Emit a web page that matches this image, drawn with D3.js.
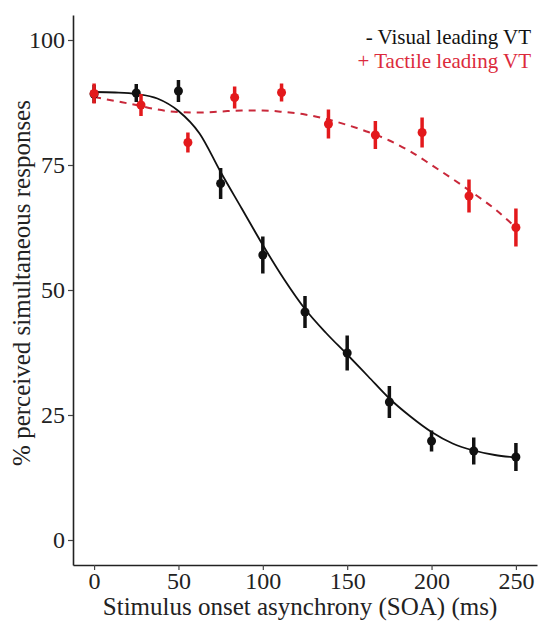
<!DOCTYPE html>
<html>
<head>
<meta charset="utf-8">
<script src="https://cdn.jsdelivr.net/npm/d3@7"></script>
<style>
  html, body { margin: 0; padding: 0; background: #fff; }
  svg { display: block; }
</style>
</head>
<body>
<svg id="chart" width="538" height="623"></svg>
<script>
// Simultaneity judgements: visual-leading (black) and tactile-leading (red) conditions
const visualSOA  = [0, 25, 50, 75, 100, 125, 150, 175, 200, 225, 250];
const visualMean = [89.2, 89.4, 89.8, 71.3, 57.0, 45.6, 37.4, 27.6, 19.8, 17.8, 16.6];
const visualErr  = [1.8, 1.8, 2.2, 3.1, 3.7, 3.2, 3.5, 3.2, 2.1, 2.7, 2.8];

const tactileSOA  = [0, 27.8, 55.6, 83.3, 111.1, 138.9, 166.7, 194.4, 222.2, 250];
const tactileMean = [89.3, 87.0, 79.5, 88.5, 89.5, 83.2, 81.0, 81.5, 68.8, 62.5];
const tactileErr  = [2.0, 2.2, 2.0, 2.2, 1.8, 2.9, 2.8, 3.0, 3.3, 3.8];

// Fitted curves
const fitSOA     = [0, 12.5, 25, 37.5, 50, 62.5, 75, 87.5, 100, 112.5, 125, 137.5, 150, 162.5, 175, 187.5, 200, 212.5, 225, 237.5, 250];
const visualFit  = [89.6, 89.5, 89.2, 88.3, 85.8, 81.3, 73.6, 66.3, 59.0, 52.2, 46.2, 41.4, 37.1, 32.7, 28.3, 24.7, 21.6, 19.3, 17.9, 17.0, 16.5];
const tactileFit = [88.6, 87.8, 87.0, 86.1, 85.6, 85.5, 85.7, 85.9, 85.9, 85.6, 85.1, 84.2, 83.0, 81.6, 79.9, 77.7, 75.0, 72.2, 69.3, 66.2, 62.5];

const xTicks = [0, 50, 100, 150, 200, 250];
const yTicks = [0, 25, 50, 75, 100];

const legendItems = ["- Visual leading VT", "+ Tactile leading VT"];

const FONT = "'Liberation Serif', 'DejaVu Serif', serif";
const BLACK = "#111111";
const RED = "#e3191c";
const RED_LINE = "#c9283a";

const svg = d3.select("#chart").style("font-family", FONT);
const plotLeft = 73, plotRight = 537, plotTop = 15, plotBottom = 565;

const x = d3.scaleLinear().domain([-12.5, 262.5]).range([plotLeft, plotRight]);
const y = d3.scaleLinear().domain([-5, 105]).range([plotBottom, plotTop]);

// Axes
const xAxis = svg.append("g")
  .attr("transform", `translate(0,${plotBottom})`)
  .call(d3.axisBottom(x).tickValues(xTicks).tickSize(5).tickPadding(2).tickSizeOuter(0));
const yAxis = svg.append("g")
  .attr("transform", `translate(${plotLeft},0)`)
  .call(d3.axisLeft(y).tickValues(yTicks).tickSize(5).tickPadding(3).tickSizeOuter(0));

[xAxis, yAxis].forEach(g => {
  g.attr("font-family", null).attr("font-size", null);
  g.select(".domain").attr("stroke", "#222").attr("stroke-width", 1.6);
  g.selectAll(".tick line").attr("stroke", "#444").attr("stroke-width", 1.2);
  g.selectAll(".tick text")
    .attr("fill", "#222")
    .style("font-family", FONT)
    .style("font-size", "24px");
});

// Axis titles
svg.append("text")
  .attr("x", 300)
  .attr("y", 615)
  .attr("text-anchor", "middle")
  .attr("fill", "#222")
  .style("font-family", FONT)
  .style("font-size", "25px")
  .text("Stimulus onset asynchrony (SOA) (ms)");

svg.append("text")
  .attr("transform", `translate(30,283) rotate(-90)`)
  .attr("text-anchor", "middle")
  .attr("fill", "#222")
  .style("font-family", FONT)
  .style("font-size", "25px")
  .text("% perceived simultaneous responses");

// Fitted lines
const line = d3.line().curve(d3.curveMonotoneX);

svg.append("path")
  .datum(fitSOA.map((s, i) => [x(s), y(tactileFit[i])]))
  .attr("d", line)
  .attr("fill", "none")
  .attr("stroke", RED_LINE)
  .attr("stroke-width", 2)
  .attr("stroke-dasharray", "7,6");

svg.append("path")
  .datum(fitSOA.map((s, i) => [x(s), y(visualFit[i])]))
  .attr("d", line)
  .attr("fill", "none")
  .attr("stroke", BLACK)
  .attr("stroke-width", 1.8);

// Points with error bars
function drawSeries(soa, mean, err, color) {
  const g = svg.append("g");
  const data = soa.map((s, i) => ({ s, m: mean[i], e: err[i] }));
  g.selectAll("line.err").data(data).join("line")
    .attr("class", "err")
    .attr("x1", d => x(d.s)).attr("x2", d => x(d.s))
    .attr("y1", d => y(d.m - d.e)).attr("y2", d => y(d.m + d.e))
    .attr("stroke", color).attr("stroke-width", 3.5);
  g.selectAll("circle").data(data).join("circle")
    .attr("cx", d => x(d.s)).attr("cy", d => y(d.m))
    .attr("r", 4.5)
    .attr("fill", color);
}
drawSeries(visualSOA, visualMean, visualErr, BLACK);
drawSeries(tactileSOA, tactileMean, tactileErr, RED);

// Legend
const legend = svg.append("g");
legend.selectAll("text").data(legendItems).join("text")
  .attr("x", 531)
  .attr("y", (d, i) => 44 + i * 24)
  .attr("text-anchor", "end")
  .attr("fill", (d, i) => i === 0 ? "#111" : "#dc2a3c")
  .style("font-family", FONT)
  .style("font-size", "21px")
  .text(d => d);
</script>
</body>
</html>
